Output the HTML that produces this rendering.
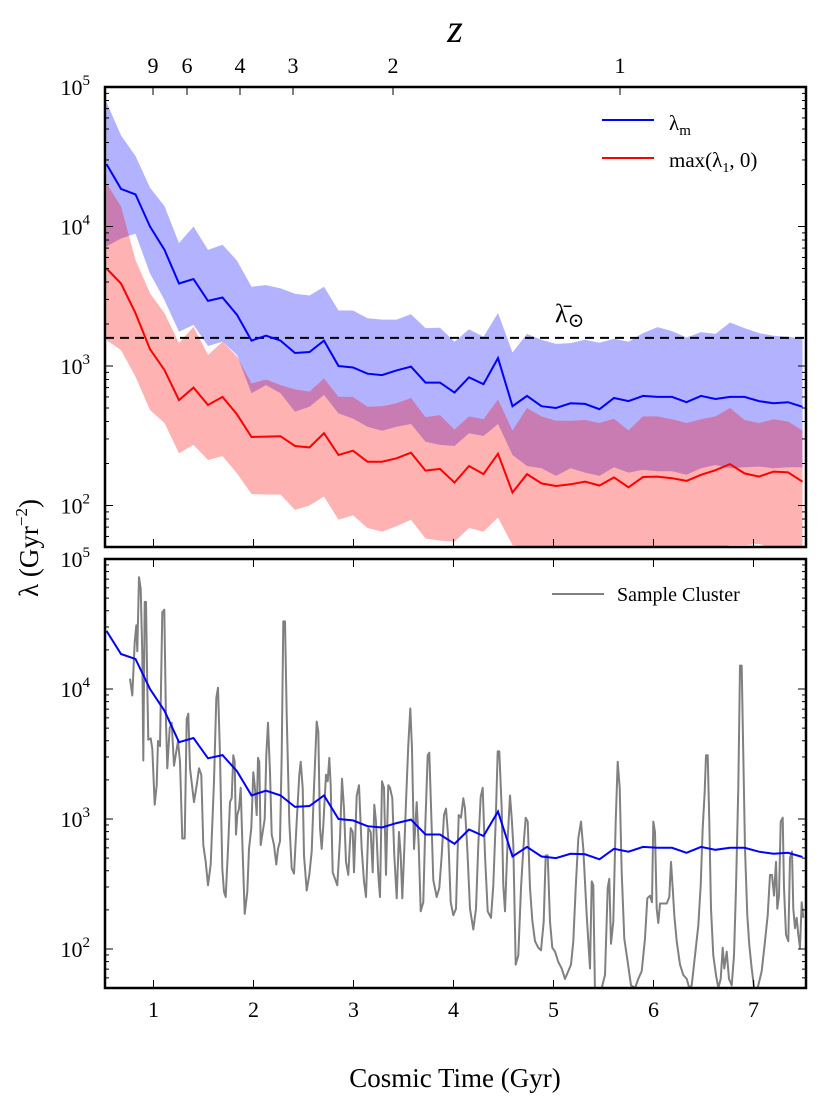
<!DOCTYPE html>
<html><head><meta charset="utf-8"><style>
html,body{margin:0;padding:0;background:#fff;}
svg{display:block;font-family:"Liberation Serif","DejaVu Serif",serif;}
</style></head><body>
<svg id="chart" width="830" height="1102" viewBox="0 0 830 1102" xmlns="http://www.w3.org/2000/svg">
<g id="top-panel"></g>
<g id="bottom-panel"></g>
<g id="axes-text"></g>
<text x="455" y="42" text-anchor="middle" font-size="40" font-style="italic">z</text>
<text x="455" y="1087" text-anchor="middle" font-size="27">Cosmic Time (Gyr)</text>
<text transform="translate(38,548) rotate(-90)" text-anchor="middle" font-size="27">λ (Gyr<tspan font-size="17" dy="-11">−2</tspan><tspan dy="11">)</tspan></text>
<g>
<line x1="602" y1="120" x2="654" y2="120" stroke="#0000ff" stroke-width="2"/>
<text x="669" y="130" font-size="21">λ<tspan font-size="15" dy="5">m</tspan></text>
<line x1="602" y1="158" x2="654" y2="158" stroke="#ff0000" stroke-width="2"/>
<text x="669" y="167" font-size="21">max(λ<tspan font-size="14" dy="5">1</tspan><tspan dy="-5">, 0)</tspan></text>
</g>
<text x="555" y="322" font-size="26">λ̄<tspan font-size="20" dy="5">⊙</tspan></text>
<g>
<line x1="552" y1="594" x2="604" y2="594" stroke="#808080" stroke-width="2"/>
<text x="617" y="601" font-size="20">Sample Cluster</text>
</g>
</svg>
<script>
// ---- data ----
const times = [0.53,0.675,0.82,0.965,1.11,1.255,1.4,1.545,1.69,1.835,1.98,2.125,2.27,2.415,2.56,2.705,2.85,2.995,3.14,3.285,3.43,3.575,3.72,3.865,4.01,4.155,4.3,4.445,4.59,4.735,4.88,5.025,5.17,5.315,5.46,5.605,5.75,5.895,6.04,6.185,6.33,6.475,6.62,6.765,6.91,7.055,7.2,7.345,7.49];
const lamM = [28000,18600,17000,10000,6800,3900,4200,2930,3100,2330,1520,1650,1520,1240,1260,1520,1000,975,880,860,930,990,760,760,645,830,740,1140,515,610,515,500,540,535,490,590,560,610,600,600,550,610,580,600,600,560,540,550,510];
const lamMHi = [78000,45000,32000,19000,14000,7600,10000,6800,7400,5700,3700,3800,3600,3300,3200,3700,2500,2500,2200,2150,2150,2350,1870,1880,1490,1830,1620,2400,1250,1700,1540,1440,1460,1540,1470,1570,1490,1720,1900,1780,1600,1750,1700,2050,1870,1720,1650,1620,1570];
const lamMLo = [7200,8200,8900,4600,2970,1760,1970,1390,1490,1200,637,730,637,470,510,620,457,420,367,344,367,384,286,272,267,330,315,384,230,192,185,163,185,172,163,188,172,180,176,176,166,185,195,185,188,190,185,188,188];
const lam1 = [5000,3900,2390,1320,935,570,700,525,600,450,310,312,314,267,261,330,230,247,206,206,218,239,178,183,146,192,168,235,124,168,144,138,142,148,139,159,135,160,161,157,150,166,179,198,170,161,175,173,148];
const lam1Hi = [20400,13900,5750,3320,2390,1460,1910,1200,1490,1170,750,800,730,680,655,815,600,600,510,515,540,590,430,445,350,435,415,575,345,500,435,405,405,410,390,420,345,435,435,415,390,415,435,500,410,390,415,400,345];
const lam1Lo = [1530,1300,838,484,390,237,272,212,226,170,121,120,120,93,100,116,79,85,69,65,71,79,58,56,55,69,65,82,52,50,49,48,50,48,47,50,48,46,44,45,48,46,49,52,52,53,49,51,50.5];
const lamSun = 1590;
const zLabels = ["9","6","4","3","2","1"];
const zTimes = [0.995,1.335,1.865,2.395,3.395,5.665];
const xTicks = [1,2,3,4,5,6,7];
const yDecades = [2,3,4,5];
// sample cluster: cosmic time and log10(lambda)
const sampleT = [0.765,0.788,0.812,0.828,0.838,0.855,0.872,0.888,0.898,0.912,0.925,0.938,0.948,0.972,0.988,1.012,1.032,1.045,1.065,1.088,1.108,1.125,1.138,1.162,1.182,1.205,1.222,1.245,1.265,1.288,1.312,1.332,1.348,1.365,1.388,1.405,1.432,1.455,1.478,1.498,1.522,1.545,1.572,1.605,1.628,1.645,1.665,1.688,1.705,1.722,1.745,1.765,1.782,1.798,1.812,1.825,1.838,1.855,1.872,1.888,1.912,1.938,1.955,1.978,1.998,2.012,2.032,2.045,2.058,2.072,2.092,2.112,2.128,2.145,2.165,2.182,2.205,2.228,2.245,2.265,2.282,2.298,2.315,2.332,2.358,2.382,2.405,2.432,2.458,2.472,2.492,2.505,2.532,2.558,2.582,2.605,2.632,2.648,2.665,2.682,2.698,2.725,2.742,2.758,2.772,2.792,2.815,2.838,2.865,2.885,2.905,2.925,2.948,2.972,2.992,3.005,3.032,3.055,3.082,3.105,3.125,3.148,3.172,3.192,3.208,3.225,3.248,3.265,3.285,3.305,3.325,3.348,3.365,3.388,3.408,3.432,3.455,3.472,3.488,3.508,3.525,3.548,3.568,3.585,3.605,3.632,3.652,3.672,3.698,3.718,3.742,3.758,3.782,3.798,3.832,3.858,3.882,3.905,3.925,3.948,3.972,3.998,4.025,4.052,4.075,4.098,4.115,4.138,4.165,4.198,4.225,4.248,4.272,4.292,4.315,4.342,4.375,4.398,4.422,4.442,4.458,4.482,4.498,4.515,4.542,4.565,4.582,4.598,4.622,4.648,4.675,4.698,4.722,4.742,4.765,4.788,4.815,4.848,4.875,4.902,4.922,4.942,4.965,4.988,5.015,5.048,5.082,5.115,5.148,5.175,5.198,5.222,5.248,5.275,5.298,5.332,5.365,5.382,5.398,5.415,5.448,5.482,5.515,5.542,5.558,5.575,5.598,5.622,5.642,5.662,5.682,5.708,5.742,5.775,5.815,5.848,5.882,5.915,5.938,5.965,5.985,5.998,6.015,6.032,6.048,6.065,6.132,6.158,6.175,6.192,6.208,6.232,6.265,6.298,6.332,6.358,6.382,6.415,6.448,6.472,6.492,6.512,6.525,6.542,6.558,6.575,6.598,6.625,6.648,6.672,6.692,6.708,6.732,6.755,6.782,6.805,6.825,6.848,6.865,6.882,6.898,6.915,6.938,6.958,6.982,7.015,7.048,7.082,7.115,7.142,7.165,7.185,7.205,7.225,7.238,7.255,7.272,7.292,7.305,7.325,7.348,7.365,7.385,7.398,7.415,7.432,7.448,7.465,7.482,7.498];
const sampleLog = [4.08,3.95,4.36,4.49,4.29,4.86,4.77,4.26,3.45,4.67,4.67,4.01,3.61,3.62,3.54,3.11,3.26,3.60,3.56,4.59,4.61,3.75,3.39,3.70,3.74,3.41,3.49,3.60,3.44,2.85,2.85,3.77,3.81,3.39,3.24,3.13,3.26,3.39,3.34,2.80,2.67,2.49,2.65,3.29,3.93,4.01,3.49,2.62,2.44,2.40,2.77,3.13,3.16,3.49,3.44,2.88,3.03,3.08,3.24,2.83,2.27,2.44,2.77,2.93,3.36,3.26,3.03,3.47,3.44,2.80,2.90,3.00,3.49,3.74,3.36,2.88,2.80,2.65,2.77,2.83,3.49,4.52,4.52,3.80,2.98,2.62,2.58,2.98,3.34,3.44,3.24,2.72,2.45,2.57,2.75,3.24,3.75,3.67,2.93,2.77,2.95,3.34,3.29,3.47,3.26,2.59,2.54,2.49,2.85,3.31,3.08,2.67,2.57,2.93,2.90,2.59,3.18,3.26,2.77,2.52,2.40,2.93,2.90,2.59,3.11,2.98,2.57,2.40,3.29,3.24,2.57,3.26,3.24,3.16,2.72,2.39,2.90,2.72,2.39,2.77,3.13,3.57,3.85,3.54,2.77,3.13,2.80,2.29,2.36,2.95,3.49,3.51,2.93,2.53,2.40,2.47,2.72,3.03,3.08,2.85,2.36,2.26,2.31,3.03,3.01,3.16,3.08,2.77,2.31,2.15,2.31,2.80,3.17,3.24,2.72,2.29,2.24,2.49,2.98,3.52,3.52,3.08,2.49,2.29,2.85,3.18,3.01,2.80,1.88,1.95,2.47,2.77,3.01,2.98,2.47,2.22,2.06,2.01,1.99,2.21,2.72,2.72,2.21,2.01,1.98,1.90,1.85,1.77,1.83,1.88,2.06,2.47,2.85,2.98,2.77,2.26,1.85,2.52,2.49,1.65,1.67,1.70,1.80,2.47,2.54,2.04,2.21,2.98,3.44,3.24,2.59,2.08,1.90,1.72,1.70,1.77,1.83,2.08,2.39,2.41,2.36,2.98,2.90,2.31,2.20,2.35,2.35,2.40,2.67,2.47,2.26,2.06,1.88,1.80,1.77,1.70,1.72,1.95,2.18,2.49,2.93,3.21,3.49,3.49,2.98,2.31,1.95,1.80,1.70,1.77,2.01,1.85,1.98,1.77,1.72,1.95,2.47,3.24,4.18,4.18,3.49,2.77,2.26,2.03,1.85,1.65,1.72,1.83,2.06,2.26,2.57,2.57,2.41,2.67,2.31,2.41,2.98,3.01,2.47,2.11,2.06,2.70,2.75,2.31,2.16,2.24,2.11,2.01,2.36,2.24];

// ---- geometry ----
const NS = "http://www.w3.org/2000/svg";
const X0 = 105, X1 = 806, TMIN = 0.515, TMAX = 7.525;
const xS = t => X0 + (t - TMIN) / (TMAX - TMIN) * (X1 - X0);
const TOP = {y0: 87, y1: 547, lmax: 5, lmin: 5 - 460/139.5};
const BOT = {y0: 559, y1: 988, lmax: 5, lmin: 5 - 429/130};
const yL = (p, lg) => p.y0 + (p.lmax - lg) / (p.lmax - p.lmin) * (p.y1 - p.y0);
const yV = (p, v) => yL(p, Math.log10(v));

function mk(tag, attrs, parent) {
  const e = document.createElementNS(NS, tag);
  for (const k in attrs) e.setAttribute(k, attrs[k]);
  parent.appendChild(e);
  return e;
}
const svgEl = document.getElementById('chart');
const topG = document.getElementById('top-panel');
const botG = document.getElementById('bottom-panel');
const txtG = document.getElementById('axes-text');

function clip(id, p) {
  const c = mk('clipPath', {id: id}, svgEl);
  mk('rect', {x: X0, y: p.y0, width: X1 - X0, height: p.y1 - p.y0}, c);
}
clip('clipTop', TOP); clip('clipBot', BOT);

function linePts(p, xs, vs) { return xs.map((t, i) => xS(t).toFixed(1) + ',' + yV(p, vs[i]).toFixed(1)).join(' '); }
function bandPts(p, xs, hi, lo) {
  const a = xs.map((t, i) => xS(t).toFixed(1) + ',' + yV(p, hi[i]).toFixed(1));
  const b = xs.map((t, i) => xS(t).toFixed(1) + ',' + yV(p, lo[i]).toFixed(1)).reverse();
  return a.concat(b).join(' ');
}

// ---- top panel ----
const tc = mk('g', {'clip-path': 'url(#clipTop)'}, topG);
const bandM = mk('polygon', {points: bandPts(TOP, times, lamMHi, lamMLo), fill: '#0000ff', 'fill-opacity': 0.3}, tc);


const band1 = mk('polygon', {points: bandPts(TOP, times, lam1Hi, lam1Lo), fill: '#ff0000', 'fill-opacity': 0.3}, tc);


const sunLine = mk('line', {x1: X0, x2: X1, y1: yV(TOP, lamSun), y2: yV(TOP, lamSun), stroke: '#000', 'stroke-width': 2, 'stroke-dasharray': '9,6'}, tc);


const lineM = mk('polyline', {points: linePts(TOP, times, lamM), fill: 'none', stroke: '#0000ff', 'stroke-width': 2}, tc);


const line1 = mk('polyline', {points: linePts(TOP, times, lam1), fill: 'none', stroke: '#ff0000', 'stroke-width': 2}, tc);



// ---- bottom panel ----
const bc = mk('g', {'clip-path': 'url(#clipBot)'}, botG);
const grayL = mk('polyline', {points: sampleT.map((t, i) => xS(t).toFixed(1) + ',' + yL(BOT, sampleLog[i]).toFixed(1)).join(' '), fill: 'none', stroke: '#808080', 'stroke-width': 2, 'stroke-linejoin': 'round'}, bc);


const lineMB = mk('polyline', {points: linePts(BOT, times, lamM), fill: 'none', stroke: '#0000ff', 'stroke-width': 2}, bc);



// ---- axes ----
function axes(p, g, topTicksZ, name) {
  for (let d = Math.floor(p.lmin); d <= p.lmax; d++) {
    for (let m = 1; m <= 9; m++) {
      const lg = d + Math.log10(m);
      if (lg < p.lmin - 1e-6 || lg > p.lmax + 1e-6) continue;
      const y = yL(p, lg), len = m === 1 ? 8 : 4;
      mk('line', {x1: X0, x2: X0 + len, y1: y, y2: y, stroke: '#000', 'stroke-width': 1}, g);
      mk('line', {x1: X1, x2: X1 - len, y1: y, y2: y, stroke: '#000', 'stroke-width': 1}, g);
    }
  }
  xTicks.forEach(t => {
    const x = xS(t);
    mk('line', {x1: x, x2: x, y1: p.y1, y2: p.y1 - 8, stroke: '#000', 'stroke-width': 1}, g);
    if (!topTicksZ) mk('line', {x1: x, x2: x, y1: p.y0, y2: p.y0 + 8, stroke: '#000', 'stroke-width': 1}, g);
  });
  if (topTicksZ) zTimes.forEach(t => {
    const x = xS(t);
    mk('line', {x1: x, x2: x, y1: p.y0, y2: p.y0 + 8, stroke: '#000', 'stroke-width': 1}, g);
  });
  const fr = mk('rect', {x: X0, y: p.y0, width: X1 - X0, height: p.y1 - p.y0, fill: 'none', stroke: '#000', 'stroke-width': 2.5}, g);
  
  
  yDecades.forEach(d => {
    const y = yL(p, d);
    const t = mk('text', {x: 90, y: y + 8, 'text-anchor': 'end', 'font-size': 22}, txtG);
    
    
    const a = mk('tspan', {}, t); a.textContent = '10';
    const b = mk('tspan', {'font-size': 15, dy: -10}, t); b.textContent = String(d);
  });
}
axes(TOP, topG, true, 'top-panel');
axes(BOT, botG, false, 'bottom-panel');

zTimes.forEach((t, i) => {
  const e = mk('text', {x: xS(t), y: 73, 'text-anchor': 'middle', 'font-size': 22}, txtG);
  
  
  e.textContent = zLabels[i];
});
xTicks.forEach(t => {
  const e = mk('text', {x: xS(t), y: 1017, 'text-anchor': 'middle', 'font-size': 22}, txtG);
  
  
  e.textContent = String(t);
});
</script>
</body></html>
